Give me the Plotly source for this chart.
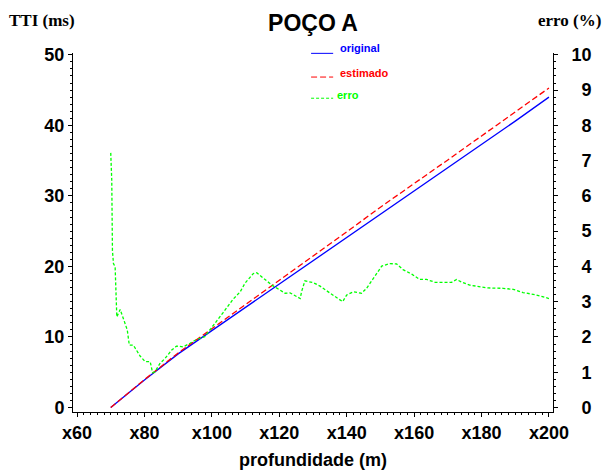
import plotly.graph_objects as go

# Profundidade (m) e TTI (ms): curva original e curva estimada
prof = [70, 80, 90, 100, 110, 120, 130, 140, 150, 160, 170, 180, 190, 200]
tti_original = [0.0, 3.9, 7.6, 10.9, 14.2, 17.5, 20.8, 24.1, 27.3, 30.6, 33.9, 37.2, 40.6, 44.0]
tti_estimado = [0.0, 3.95, 7.73, 11.15, 14.7, 18.1, 21.5, 24.9, 28.4, 31.7, 35.1, 38.5, 41.9, 45.3]

# Erro relativo (%) ao longo da profundidade
prof_erro = [70.0, 70.3, 70.5, 70.8, 71.3, 71.5, 71.8, 72.8, 73.5, 74.9, 75.5, 76.7, 78.7,
             80.2, 81.7, 82.4, 83.1, 84.6, 86.1, 88.1, 89.5, 91.5, 93.5, 95.5, 97.9,
             100.4, 103.4, 106.4, 108.4, 109.8, 112.3, 113.3, 115.3, 117.8, 120.2, 121.7,
             123.2, 126.2, 126.6, 127.6, 130.1, 132.1, 135.1, 137.5, 138.8, 140.0, 142.0,
             144.4, 145.9, 147.9, 150.4, 152.8, 154.8, 156.7, 159.3, 161.7, 163.7, 166.2,
             171.1, 172.6, 174.0, 176.5, 179.5, 181.9, 186.4, 189.4, 192.3, 196.3, 200.0]
erro = [7.22, 6.44, 4.46, 4.08, 3.99, 3.45, 2.57, 2.78, 2.57, 2.20, 1.77, 1.77, 1.46,
        1.30, 1.30, 0.99, 1.01, 1.25, 1.39, 1.63, 1.74, 1.72, 1.82, 1.93, 2.01,
        2.31, 2.70, 3.08, 3.28, 3.52, 3.80, 3.82, 3.66, 3.47, 3.33, 3.24,
        3.25, 3.09, 3.28, 3.59, 3.54, 3.44, 3.24, 3.09, 3.00, 3.19, 3.28,
        3.24, 3.38, 3.66, 4.01, 4.08, 4.07, 3.91, 3.78, 3.63, 3.63, 3.55,
        3.55, 3.63, 3.56, 3.47, 3.42, 3.39, 3.38, 3.35, 3.26, 3.19, 3.09]

# Rótulos do eixo direito alinhados à direita
erro_ticks = list(range(0, 11))
erro_ticktext = [("\u00a0\u00a0" + str(v)) if v < 10 else str(v) for v in erro_ticks]

AZUL, VERMELHO, VERDE = "#0000ff", "#ff0000", "#00ff00"
SANS = "Liberation Sans, Arial, sans-serif"
SERIF = "Liberation Serif, Times New Roman, serif"

fig = go.Figure()
fig.add_trace(go.Scatter(x=prof, y=tti_original, mode="lines", name="original",
                         line=dict(color=AZUL, width=1.3)))
fig.add_trace(go.Scatter(x=prof, y=tti_estimado, mode="lines", name="estimado",
                         line=dict(color=VERMELHO, width=1.3, dash="6px,3px")))
fig.add_trace(go.Scatter(x=prof_erro, y=erro, mode="lines", name="erro", yaxis="y2",
                         line=dict(color=VERDE, width=1.3, dash="3px,2px")))

tickfont = dict(family=SANS, size=18, color="black", weight="bold")

fig.update_layout(
    width=605, height=472,
    margin=dict(l=73, r=52, t=53, b=60),
    paper_bgcolor="white", plot_bgcolor="white",
    showlegend=False,
    title=dict(text="POÇO A", x=0.5, xanchor="center", xref="paper",
               y=1 - 23 / 472, yanchor="middle",
               font=dict(family=SANS, size=23, color="black", weight="bold")),
    xaxis=dict(range=[58.8, 201.2], tickmode="linear", tick0=60, dtick=20,
               tickprefix="x", showgrid=False, zeroline=False, automargin=False,
               showline=True, linecolor="black", linewidth=1,
               ticks="outside", ticklen=4, tickcolor="black",
               minor=dict(tickmode="linear", tick0=60, dtick=2, ticks="outside",
                          ticklen=2, tickcolor="black", showgrid=False),
               tickfont=tickfont,
               title=dict(text="profundidade (m)", standoff=11,
                          font=dict(family=SANS, size=18, color="black", weight="bold"))),
    yaxis=dict(range=[-0.64, 50.26], tickmode="linear", tick0=0, dtick=10,
               showgrid=False, zeroline=False, automargin=False,
               showline=True, linecolor="black", linewidth=1,
               ticks="outside", ticklen=4, tickcolor="black",
               minor=dict(tickmode="linear", tick0=0, dtick=1, ticks="outside",
                          ticklen=2, tickcolor="black", showgrid=False),
               tickfont=tickfont),
    yaxis2=dict(range=[-0.128, 10.052], overlaying="y", side="right",
                tickmode="array", tickvals=erro_ticks, ticktext=erro_ticktext,
                showgrid=False, zeroline=False, automargin=False,
                showline=True, linecolor="black", linewidth=1,
                ticks="outside", ticklen=4, tickcolor="black",
                ticklabelstandoff=10,
                minor=dict(tickmode="linear", tick0=0, dtick=0.2, ticks="outside",
                           ticklen=2, tickcolor="black", showgrid=False),
                tickfont=tickfont),
)

# Títulos dos eixos verticais
fig.add_annotation(text="TTI (ms)", xref="paper", yref="paper", x=-0.0654, y=1.091,
                   xanchor="center", yanchor="middle", showarrow=False,
                   font=dict(family=SERIF, size=17, color="black", weight="bold"))
fig.add_annotation(text="erro (%)", xref="paper", yref="paper", x=1.104, y=1.091,
                   xanchor="right", yanchor="middle", showarrow=False,
                   font=dict(family=SERIF, size=17, color="black", weight="bold"))

# Legenda desenhada à mão: amostra de linha + nome na cor da série
legenda = [
    ("original", AZUL, "solid", 0.999, 1.013, 0.552),
    ("estimado", VERMELHO, "6px,3px", 0.933, 0.944, 0.552),
    ("erro", VERDE, "3px,2px", 0.874, 0.882, 0.546),
]
for nome, cor, traco, y_linha, y_texto, x_texto in legenda:
    fig.add_shape(type="line", xref="paper", yref="paper",
                  x0=0.496, x1=0.542, y0=y_linha, y1=y_linha,
                  line=dict(color=cor, width=1, dash=traco))
    fig.add_annotation(text=nome, xref="paper", yref="paper", x=x_texto, y=y_texto,
                       xanchor="left", yanchor="middle", showarrow=False,
                       font=dict(family=SANS, size=11, color=cor, weight="bold"))

fig.write_html("out.html")
